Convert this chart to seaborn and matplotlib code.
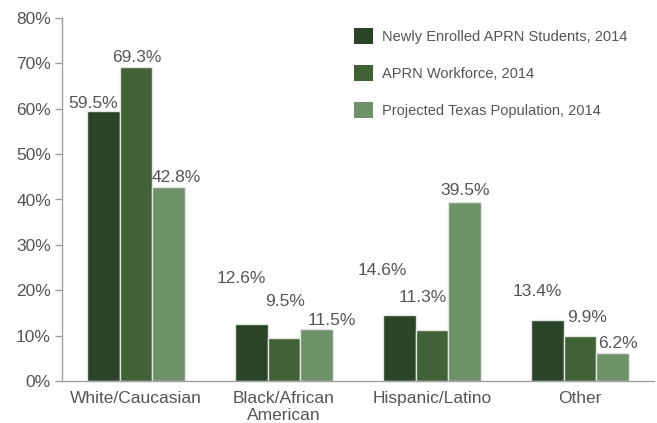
import pandas as pd
import numpy as np
import matplotlib
matplotlib.use("Agg")
import matplotlib.pyplot as plt
import seaborn as sns

# Data
categories = ["White/Caucasian", "Black/African\nAmerican", "Hispanic/Latino", "Other"]
series = ["Newly Enrolled APRN Students, 2014",
          "APRN Workforce, 2014",
          "Projected Texas Population, 2014"]
students = [59.5, 12.6, 14.6, 13.4]
workforce = [69.3, 9.5, 11.3, 9.9]
population = [42.8, 11.5, 39.5, 6.2]

colors = ["#2b4329", "#416237", "#6e9169"]
text_color = "#555555"
axis_color = "#a0a0a0"

# label offsets (points) of the label centre from the top centre of each bar, per series
label_dx = [[-7.2, -7.2, -12.2, -7.2], [0.7, 0.7, -6.5, 5.0], [5.8, 10.8, 0.7, 3.6]]
label_dy = [[5.5, 32.4, 31.7, 21.0], [6.5, 26.0, 23.0, 13.7], [6.5, 5.8, 7.9, 6.5]]

df = pd.DataFrame({
    "group": categories * 3,
    "series": [s for s in series for _ in categories],
    "value": students + workforce + population,
})

sns.set_style("white")
plt.rcParams["font.family"] = ["Liberation Sans", "DejaVu Sans"]

fig = plt.figure(figsize=(6.57, 4.23), dpi=100)
ax = fig.add_axes([62 / 657, 1 - 381 / 423, 592 / 657, 363 / 423])

sns.barplot(data=df, x="group", y="value", hue="series", palette=colors,
            width=0.66, gap=0, edgecolor="#e4e4e4", linewidth=1,
            saturation=1, ax=ax)

# value labels
for i, cont in enumerate(ax.containers):
    for j, bar in enumerate(cont):
        h = bar.get_height()
        ax.annotate(f"{h:.1f}%", (bar.get_x() + bar.get_width() / 2, h),
                    xytext=(label_dx[i][j], label_dy[i][j]),
                    textcoords="offset points", ha="center", va="center",
                    fontsize=12.5, color=text_color)

ax.set_ylim(0, 80)
ax.set_xlim(-0.5, 3.5)
ax.set_yticks(np.arange(0, 81, 10))
ax.set_yticklabels([f"{v}%" for v in range(0, 81, 10)])
ax.set_xlabel("")
ax.set_ylabel("")

# boundary ticks between categories
ax.set_xticks(np.arange(-0.5, 4, 1), minor=True)
ax.tick_params(axis="x", which="major", length=0, pad=7, labelsize=12.5, labelcolor=text_color)
ax.tick_params(axis="x", which="minor", length=5, width=1, color=axis_color, direction="out")
ax.tick_params(axis="y", length=5, width=1, color=axis_color, pad=3, labelsize=12.5,
               labelcolor=text_color, left=True)

for side in ["top", "right"]:
    ax.spines[side].set_visible(False)
for side in ["left", "bottom"]:
    ax.spines[side].set_color(axis_color)
    ax.spines[side].set_linewidth(1)

leg = ax.legend(loc="upper left", bbox_to_anchor=(354 / 657, 1 - 28 / 423),
                bbox_transform=fig.transFigure, frameon=False, fontsize=10.5,
                handlelength=1.3, handleheight=1.3, handletextpad=0.6,
                labelspacing=1.45, borderpad=0, borderaxespad=0)
for t in leg.get_texts():
    t.set_color(text_color)
for h in leg.legend_handles:
    h.set_edgecolor("none")

fig.savefig("out.png", dpi=100)
